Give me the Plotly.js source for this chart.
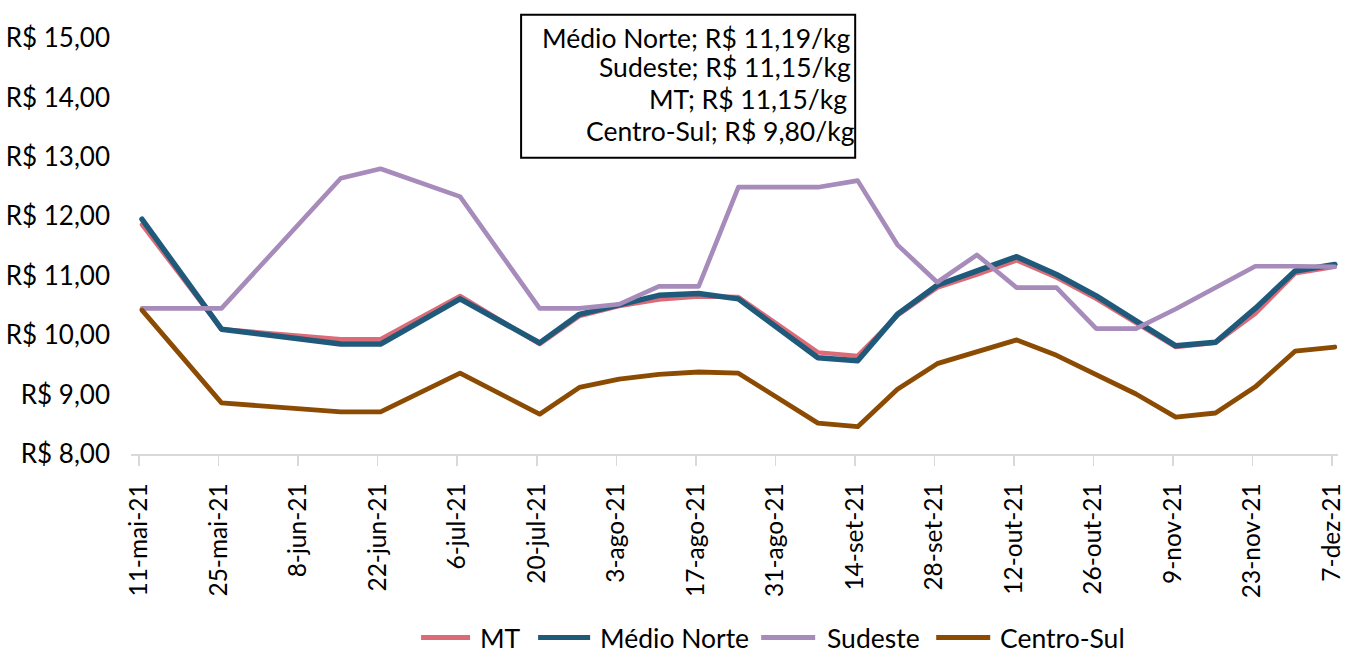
<!DOCTYPE html>
<html>
<head>
<meta charset="utf-8">
<script src="https://cdn.plot.ly/plotly-3.0.1.min.js"></script>
<style>
html,body{margin:0;padding:0;background:#fff;}
#chart{width:1364px;height:653px;}
#chart .scatterlayer .js-line{stroke-linejoin:round !important;stroke-linecap:round !important;}
</style>
</head>
<body>
<div id="chart"></div>
<script>
// Weekly dates with data points (visible kinks in the reference)
const dates = [
  "2021-05-11","2021-05-25","2021-06-15","2021-06-22","2021-07-06","2021-07-20",
  "2021-07-27","2021-08-03","2021-08-10","2021-08-17","2021-08-24","2021-09-07",
  "2021-09-14","2021-09-21","2021-09-28","2021-10-05","2021-10-12","2021-10-19",
  "2021-10-26","2021-11-02","2021-11-09","2021-11-16","2021-11-23","2021-11-30",
  "2021-12-07"
];
const mt = [11.86,10.10,9.93,9.93,10.66,9.85,10.32,10.49,10.60,10.65,10.64,9.71,
            9.65,10.33,10.80,11.02,11.26,10.97,10.61,10.20,9.80,9.87,10.36,11.04,11.15];
const medioNorte = [11.95,10.10,9.85,9.85,10.61,9.87,10.35,10.52,10.67,10.70,10.61,9.62,
                    9.57,10.35,10.84,11.08,11.32,11.02,10.66,10.24,9.82,9.88,10.45,11.08,11.19];
const sudeste = [10.45,10.45,12.64,12.80,12.33,10.45,10.45,10.52,10.82,10.82,12.49,12.49,
                 12.60,11.52,10.89,11.35,10.80,10.80,10.11,10.11,10.44,10.80,11.16,11.16,11.15];
const centroSul = [10.42,8.86,8.71,8.71,9.36,8.67,9.12,9.26,9.34,9.38,9.36,8.52,
                   8.46,9.09,9.52,9.71,9.92,9.66,9.33,9.01,8.62,8.69,9.13,9.73,9.80];

const seriesNames = ["MT","Médio Norte","Sudeste","Centro-Sul"];
const seriesColors = ["#dc6b78","#1f5a7b","#a68bbb","#8c4b02"];

// Tick labels (every two weeks)
const tickDates = ["2021-05-11","2021-05-25","2021-06-08","2021-06-22","2021-07-06","2021-07-20",
  "2021-08-03","2021-08-17","2021-08-31","2021-09-14","2021-09-28","2021-10-12","2021-10-26",
  "2021-11-09","2021-11-23","2021-12-07"];
const tickLabels = ["11-mai-21","25-mai-21","8-jun-21","22-jun-21","6-jul-21","20-jul-21",
  "3-ago-21","17-ago-21","31-ago-21","14-set-21","28-set-21","12-out-21","26-out-21",
  "9-nov-21","23-nov-21","7-dez-21"];
const yTickValues = [8,9,10,11,12,13,14,15];
const yTickLabels = ["R$ 8,00","R$ 9,00","R$ 10,00","R$ 11,00","R$ 12,00","R$ 13,00","R$ 14,00","R$ 15,00"];

const boxLines = ["Médio Norte; R$ 11,19/kg","Sudeste; R$ 11,15/kg","MT; R$ 11,15/kg","Centro-Sul; R$ 9,80/kg"];

const FONT = "Lato, 'Open Sans', sans-serif";
const widths = [4.5, 5.5, 4.6, 4.8];
const values = [mt, medioNorte, sudeste, centroSul];

const traces = values.map((y,i) => ({
  type:"scatter", mode:"lines", name:seriesNames[i], x:dates, y:y,
  line:{color:seriesColors[i], width:widths[i], shape:"linear"}, hoverinfo:"skip", showlegend:false
}));

// tick positions offset half a day (Excel date axis places points mid-day)
const tickPos = tickDates.map(d => {
  const t = new Date(d + "T00:00:00Z").getTime() - 12*3600*1000;
  return new Date(t).toISOString().slice(0,19).replace("T"," ");
});

const L = 131, R = 1337.7, T = 38.3, B = 454.5;
const W = R - L, H = B - T;
const px = x => (x - L) / W;
const py = y => (B - y) / H;

const annYs = [38, 67, 99, 131];
const annXs = [853, 853, 849, 857];
const annotations = boxLines.map((t,i) => ({
  text:t, xref:"paper", yref:"paper", x:px(annXs[i]), y:py(annYs[i]),
  xanchor:"right", yanchor:"middle", showarrow:false,
  font:{family:FONT, size:26.5, color:"#000"}
}));

// legend drawn as line shapes + text
const legY = 638;
const legLineX = [[421,470],[538,590],[761,815],[936,990]];
const legTextX = [478, 598, 825, 998];
const shapes = [{type:"rect", xref:"paper", yref:"paper", x0:px(521), x1:px(855), y0:py(158), y1:py(15),
           line:{color:"#000", width:2}, fillcolor:"rgba(0,0,0,0)", layer:"above"}];
seriesNames.forEach((n,i) => {
  shapes.push({type:"line", xref:"paper", yref:"paper", x0:px(legLineX[i][0]), x1:px(legLineX[i][1]),
               y0:py(legY), y1:py(legY), line:{color:seriesColors[i], width:5}});
  annotations.push({text:n, xref:"paper", yref:"paper", x:px(legTextX[i]), y:py(legY+1),
               xanchor:"left", yanchor:"middle", showarrow:false,
               font:{family:FONT, size:26.5, color:"#000"}});
});

const layout = {
  width:1364, height:653,
  margin:{l:L, r:1364-R, t:T, b:653-B, pad:0, autoexpand:false},
  paper_bgcolor:"#fff", plot_bgcolor:"#fff",
  font:{family:FONT, size:26, color:"#000"},
  showlegend:false,
  xaxis:{type:"date", range:["2021-05-09 01:30","2021-12-07 13:30"], automargin:false,
         tickmode:"array", tickvals:tickPos, ticktext:tickLabels, tickangle:-90,
         ticks:"outside", ticklen:10, tickwidth:1.5, tickcolor:"#d9d9d9", ticklabelstandoff:8,
         showline:true, linecolor:"#d9d9d9", linewidth:1.5,
         showgrid:false, zeroline:false, tickfont:{family:FONT, size:24.5, color:"#000"}},
  yaxis:{range:[8,15], automargin:false, tickmode:"array", tickvals:yTickValues, ticktext:yTickLabels,
         showgrid:false, zeroline:false, showline:false,
         ticks:"", ticklabelstandoff:20, tickfont:{family:FONT, size:26, color:"#000"}},
  shapes:shapes,
  annotations:annotations
};

Plotly.newPlot("chart", traces, layout, {displayModeBar:false, staticPlot:true});
</script>
</body>
</html>
